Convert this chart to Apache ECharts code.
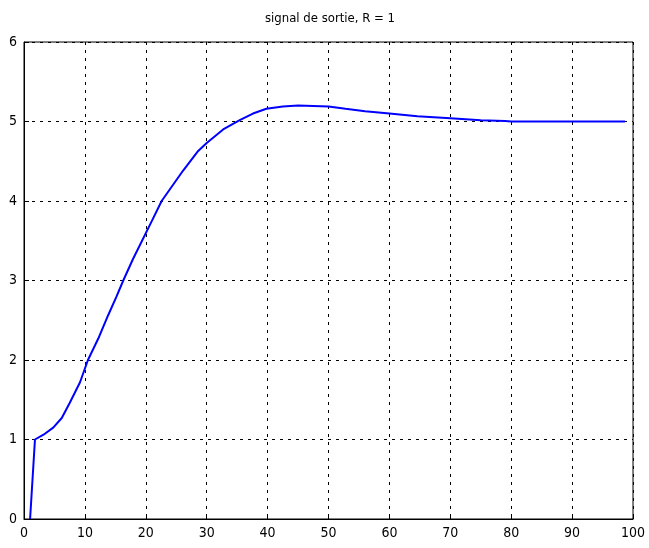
<!DOCTYPE html>
<html>
<head>
<meta charset="utf-8">
<script src="https://cdn.jsdelivr.net/npm/echarts@6/dist/echarts.min.js"></script>
<style>
  html, body { margin: 0; padding: 0; background: #fff; }
  #main { width: 649px; height: 548px; }
</style>
</head>
<body>
<div id="main"></div>
<script>
// signal values
var tVals = [1.0, 1.8, 3.2, 4.8, 6.2, 7.5, 9.2, 10.5, 12.2, 13.8, 15.2, 16.3, 17.9, 21, 22.6, 26.1, 28.6, 30,
  32.7, 35.5, 37.6, 39.8, 42.5, 45, 50, 52.8, 56, 60, 64.6, 70, 75, 79, 80, 90, 98.7];
var sVals = [0, 1.0, 1.06, 1.15, 1.27, 1.46, 1.72, 2.0, 2.27, 2.56, 2.8, 3.0, 3.27, 3.75, 4.0, 4.38, 4.63, 4.73,
  4.9, 5.02, 5.1, 5.16, 5.19, 5.2, 5.19, 5.16, 5.13, 5.1, 5.065, 5.04, 5.015, 5.005, 5.0, 5.0, 5.0];
var titleText = 'signal de sortie, R = 1';

var points = [];
for (var i = 0; i < tVals.length; i++) {
  points.push([tVals[i], sVals[i]]);
}

var chart = echarts.init(document.getElementById('main'));

var gridLine = { show: true, lineStyle: { color: '#000', type: [3, 5], width: 1 } };
var labelStyle = { color: '#000', fontSize: 14, fontFamily: 'Liberation Sans Narrow, DejaVu Sans Condensed, sans-serif' };

chart.setOption({
  backgroundColor: '#fff',
  animation: false,
  title: {
    text: titleText,
    left: 325,
    textAlign: 'center',
    top: 7,
    textStyle: { color: '#000', fontSize: 13, fontWeight: 'normal', fontFamily: 'Liberation Sans Narrow, DejaVu Sans Condensed, sans-serif' }
  },
  grid: {
    left: 24, right: 16, top: 42, bottom: 29,
    show: true, borderColor: '#000', borderWidth: 1, backgroundColor: '#fff'
  },
  xAxis: {
    type: 'value', min: 0, max: 100, interval: 10,
    axisLine: { show: true, onZero: false, lineStyle: { color: '#000' } },
    axisTick: { show: true, inside: true, length: 5, lineStyle: { color: '#000' } },
    axisLabel: Object.assign({ margin: 7 }, labelStyle),
    splitLine: gridLine
  },
  yAxis: {
    type: 'value', min: 0, max: 6, interval: 1,
    axisLine: { show: true, onZero: false, lineStyle: { color: '#000' } },
    axisTick: { show: true, inside: true, length: 5, lineStyle: { color: '#000' } },
    axisLabel: Object.assign({ margin: 7 }, labelStyle),
    splitLine: gridLine
  },
  series: [{
    type: 'line',
    data: points,
    showSymbol: false,
    smooth: false,
    lineStyle: { color: '#0000ff', width: 2 }
  }]
});
</script>
</body>
</html>
